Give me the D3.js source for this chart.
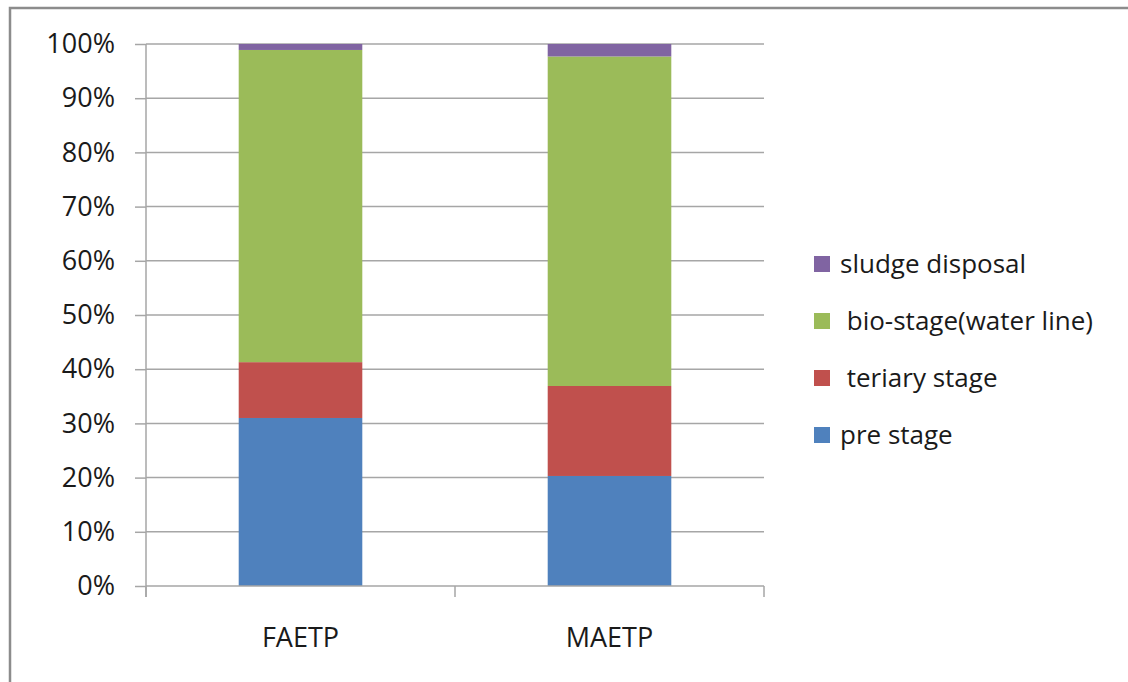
<!DOCTYPE html>
<html>
<head>
<meta charset="utf-8">
<script src="https://cdn.jsdelivr.net/npm/d3@7"></script>
<style>
  body { margin: 0; background: #fff; }
  svg { font-family: "Open Sans", sans-serif; }
</style>
</head>
<body>
<script>
// data
var categories = ['FAETP', 'MAETP'];
var seriesNames = ['pre stage', ' teriary stage', ' bio-stage(water line)', 'sludge disposal'];
var seriesColors = ['#4f81bd', '#c0504d', '#9bbb59', '#8064a2'];
var preStage = [31.0, 20.3];
var teriaryStage = [10.3, 16.6];
var bioStage = [57.6, 60.8];
var sludgeDisposal = [1.1, 2.3];
var yTicks = [0, 10, 20, 30, 40, 50, 60, 70, 80, 90, 100];

var w = 1128, h = 682;
var svg = d3.select('body').append('svg').attr('width', w).attr('height', h);

// outer frame
svg.append('rect')
    .attr('x', 10).attr('y', 8)
    .attr('width', w + 20).attr('height', h + 20)
    .attr('fill', 'none').attr('stroke', '#8c8c8c').attr('stroke-width', 2.5);

var plotLeft = 146, plotRight = 764, plotTop = 44, plotBottom = 586;

var xScale = d3.scaleBand().domain(categories).range([plotLeft, plotRight]).paddingInner(0.6).paddingOuter(0.3);
var yScale = d3.scaleLinear().domain([0, 100]).range([plotBottom, plotTop]);

// gridlines
svg.selectAll('line.grid')
    .data(yTicks.slice(1))
    .enter().append('line')
    .attr('class', 'grid')
    .attr('x1', plotLeft).attr('x2', plotRight)
    .attr('y1', function(d) { return yScale(d); })
    .attr('y2', function(d) { return yScale(d); })
    .attr('stroke', '#a6a6a6').attr('stroke-width', 1.5);

// stacked values
var rows = categories.map(function(c, i) {
    return { cat: c, v: [preStage[i], teriaryStage[i], bioStage[i], sludgeDisposal[i]] };
});
rows.forEach(function(r) {
    var total = d3.sum(r.v);
    var acc = 0;
    r.segs = r.v.map(function(v, k) {
        var s = { y0: acc / total * 100, y1: (acc + v) / total * 100, k: k, cat: r.cat };
        acc += v;
        return s;
    });
});

svg.selectAll('g.bar')
    .data(rows)
    .enter().append('g')
    .attr('class', 'bar')
    .selectAll('rect')
    .data(function(d) { return d.segs; })
    .enter().append('rect')
    .attr('x', function(d) { return xScale(d.cat); })
    .attr('width', xScale.bandwidth())
    .attr('y', function(d) { return yScale(d.y1); })
    .attr('height', function(d) { return yScale(d.y0) - yScale(d.y1); })
    .attr('fill', function(d) { return seriesColors[d.k]; });

// y axis
var yAxis = d3.axisLeft(yScale)
    .tickValues(yTicks)
    .tickFormat(function(d) { return d + '%'; })
    .tickSize(11).tickPadding(20);
var gy = svg.append('g').attr('transform', 'translate(' + plotLeft + ',0)').call(yAxis)
    .attr('font-family', null).attr('font-size', null);
gy.select('.domain').remove();
gy.selectAll('line').attr('stroke', '#a6a6a6').attr('stroke-width', 1.5);
gy.append('line').attr('x1', 0).attr('x2', 0).attr('y1', plotTop).attr('y2', plotBottom + 11)
    .attr('stroke', '#a6a6a6').attr('stroke-width', 1.5);
gy.selectAll('text').attr('fill', '#1a1a1a').style('font-size', '27px');

// x axis
var gx = svg.append('g').attr('transform', 'translate(0,' + plotBottom + ')');
gx.append('line').attr('x1', plotLeft).attr('x2', plotRight).attr('y1', 0).attr('y2', 0)
    .attr('stroke', '#a6a6a6').attr('stroke-width', 1.5);
var xTickPos = [plotLeft, (plotLeft + plotRight) / 2, plotRight];
gx.selectAll('line.tk').data(xTickPos).enter().append('line')
    .attr('class', 'tk')
    .attr('x1', function(d) { return d; }).attr('x2', function(d) { return d; })
    .attr('y1', 0).attr('y2', 11)
    .attr('stroke', '#a6a6a6').attr('stroke-width', 1.5);
gx.selectAll('text').data(categories).enter().append('text')
    .attr('x', function(d) { return xScale(d) + xScale.bandwidth() / 2; })
    .attr('y', 61)
    .attr('text-anchor', 'middle')
    .attr('fill', '#1a1a1a')
    .style('font-size', '27px')
    .text(function(d) { return d; });

// legend (reverse order, top = sludge)
var legendY = [264, 321, 378, 435];
var legend = svg.selectAll('g.leg')
    .data(seriesNames.slice().reverse())
    .enter().append('g')
    .attr('class', 'leg')
    .attr('transform', function(d, i) { return 'translate(814,' + legendY[i] + ')'; });
legend.append('rect')
    .attr('x', 0).attr('y', -8).attr('width', 16).attr('height', 16)
    .attr('fill', function(d, i) { return seriesColors[3 - i]; });
legend.append('text')
    .attr('x', 26).attr('y', 0).attr('dy', '0.35em')
    .attr('fill', '#1a1a1a')
    .style('font-size', '26px')
    .style('white-space', 'pre')
    .text(function(d) { return d; });
</script>
</body>
</html>
